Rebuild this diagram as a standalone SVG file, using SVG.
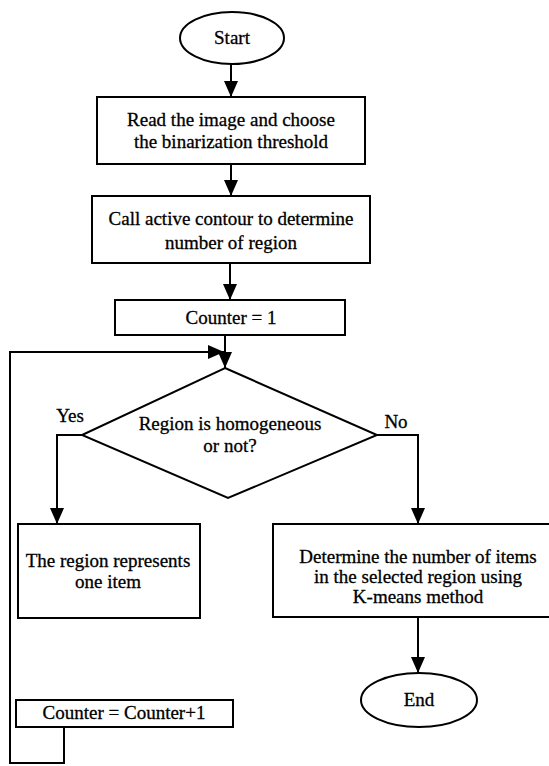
<svg xmlns="http://www.w3.org/2000/svg" width="549" height="766" viewBox="0 0 549 766" font-family="Liberation Serif" font-size="19">
<style>
.s{fill:#fff;stroke:#000;stroke-width:2}
.c{fill:none;stroke:#000;stroke-width:2}
.t{fill:#000;stroke:#000;stroke-width:0.3;text-anchor:middle}
</style>
<defs>
<marker id="ah" markerUnits="userSpaceOnUse" markerWidth="16" markerHeight="14" refX="16" refY="7" orient="auto" viewBox="0 0 16 14">
<path d="M0,0 L16,7 L0,14 z" fill="#000"/>
</marker>
</defs>
<rect width="549" height="766" fill="#fff"/>
<g id="connectors">
<path class="c" d="M231,64 V97" marker-end="url(#ah)"/>
<path class="c" d="M231,164 V196" marker-end="url(#ah)"/>
<path class="c" d="M230,263 V300" marker-end="url(#ah)"/>
<path class="c" d="M225,335 V368" marker-end="url(#ah)"/>
<path class="c" d="M64,727 V763 H10 V352 H224" marker-end="url(#ah)"/>
<path class="c" d="M82,435 H57 V524" marker-end="url(#ah)"/>
<path class="c" d="M377,435 H418 V524" marker-end="url(#ah)"/>
<path class="c" d="M418,617 V673" marker-end="url(#ah)"/>
</g>
<g id="start">
<ellipse class="s" cx="232" cy="38" rx="52" ry="26"/>
<text class="t" x="232" y="44">Start</text>
</g>
<g id="read">
<rect class="s" x="97" y="97" width="268" height="67"/>
<text class="t" x="231" y="126">Read the image and choose</text>
<text class="t" x="231" y="148">the binarization threshold</text>
</g>
<g id="contour">
<rect class="s" x="92" y="196" width="278" height="67"/>
<text class="t" x="231" y="225">Call active contour to determine</text>
<text class="t" x="231" y="249">number of region</text>
</g>
<g id="counter1">
<rect class="s" x="115" y="300" width="230" height="35"/>
<text class="t" x="231" y="324">Counter = 1</text>
</g>
<g id="decision">
<polygon class="s" points="225,368 377,435 228,498 82,435"/>
<text class="t" x="230" y="430">Region is homogeneous</text>
<text class="t" x="230" y="452">or not?</text>
</g>
<g id="label-yes"><text class="t" x="70" y="422">Yes</text></g>
<g id="label-no"><text class="t" x="396" y="428">No</text></g>
<g id="oneitem">
<rect class="s" x="18" y="524" width="182" height="94"/>
<text class="t" x="108" y="567">The region represents</text>
<text class="t" x="108" y="588">one item</text>
</g>
<g id="kmeans">
<rect class="s" x="273" y="524" width="280" height="93"/>
<text class="t" x="418" y="563">Determine the number of items</text>
<text class="t" x="418" y="583">in the selected region using</text>
<text class="t" x="418" y="603">K-means  method</text>
</g>
<g id="end">
<ellipse class="s" cx="419" cy="700" rx="58" ry="27"/>
<text class="t" x="419" y="706">End</text>
</g>
<g id="counterinc">
<rect class="s" x="16" y="700" width="217" height="27"/>
<text class="t" x="124" y="719">Counter = Counter+1</text>
</g>
</svg>
